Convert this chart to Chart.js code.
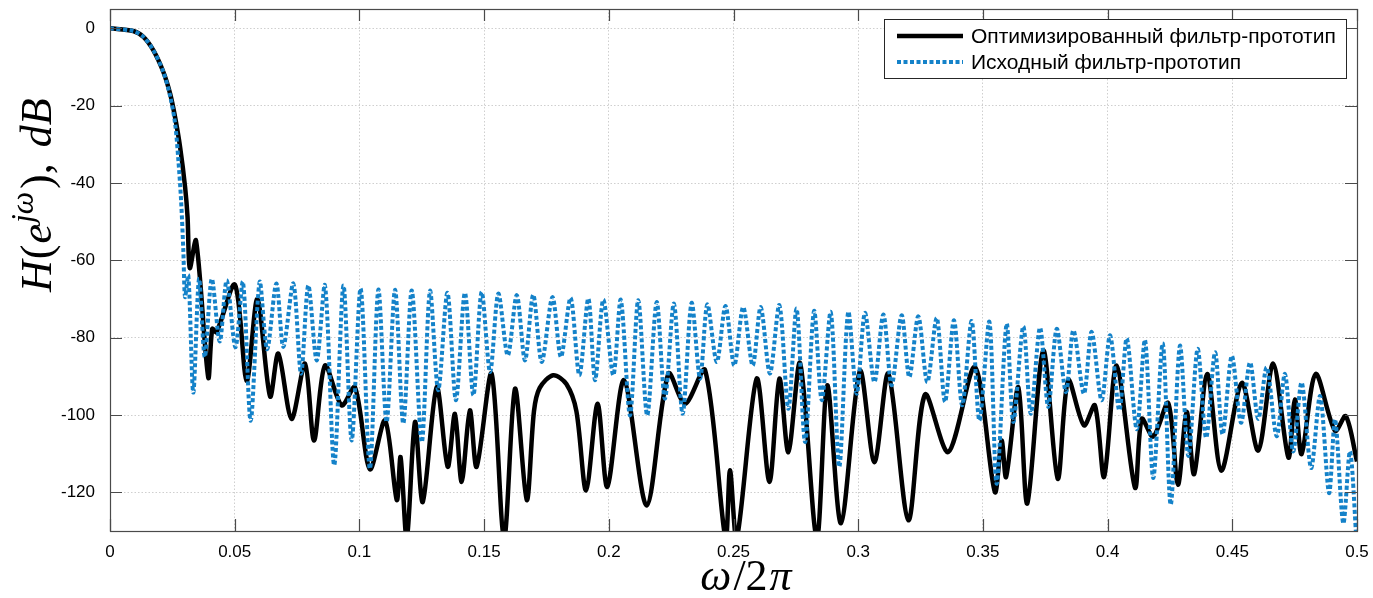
<!DOCTYPE html>
<html lang="ru">
<head>
  <meta charset="UTF-8" />
  <title>АЧХ фильтра-прототипа</title>
  <script src="https://cdn.jsdelivr.net/npm/chart.js"></script>
  <style>
    body { margin: 0; background: #fff; }
    canvas { display: block; }
  </style>
</head>
<body>
  <canvas id="chart" width="1373" height="598"></canvas>

<script>
  // normalised frequency ω/2π and magnitude in dB, optimised prototype
  const freqOpt = [
    0, 0.0093, 0.0134, 0.0174, 0.0214, 0.0241, 0.0261, 0.0281, 0.0301, 0.0311,
    0.0320, 0.0345, 0.0394, 0.0410, 0.0427, 0.0501, 0.0548, 0.0591, 0.0642, 0.0675,
    0.0728, 0.0782, 0.0818, 0.0862, 0.0929, 0.0982, 0.1042, 0.1103, 0.1150, 0.1165,
    0.1190, 0.1223, 0.1254, 0.1310, 0.1354, 0.1383, 0.1410, 0.1443, 0.1470, 0.1530,
    0.1580, 0.1624, 0.1671, 0.1700, 0.1723, 0.1777, 0.1830, 0.1870, 0.1909, 0.1955,
    0.1994, 0.2061, 0.2152, 0.2239, 0.2306, 0.2386, 0.2468, 0.2486, 0.2513, 0.2593,
    0.2644, 0.2684, 0.2720, 0.2767, 0.2834, 0.2876, 0.2931, 0.3007, 0.3065, 0.3121,
    0.3201, 0.3268, 0.3361, 0.3468, 0.3548, 0.3575, 0.3593, 0.3642, 0.3678, 0.3742,
    0.3800, 0.3842, 0.3905, 0.3949, 0.3986, 0.4036, 0.4110, 0.4137, 0.4183, 0.4243,
    0.4282, 0.4317, 0.4347, 0.4400, 0.4456, 0.4538, 0.4604, 0.4664, 0.4725, 0.4751,
    0.4778, 0.4834, 0.4912, 0.4955, 0.5000
  ];
  const gainOpt = [
    0, -0.7, -2.2, -5.7, -11.3, -16.9, -23, -30.7, -41, -48.8,
    -62, -54.9, -90.3, -77.7, -78.6, -66.3, -91.2, -70, -95.2, -84.1,
    -101, -86.7, -106.6, -87.2, -97.5, -92.8, -114, -101.4, -122, -110.9,
    -132, -101.8, -122.5, -92.8, -113.4, -99.7, -117.3, -98.8, -113.4, -89.3,
    -132, -93.2, -122, -99, -93, -89.7, -92, -99, -119.5, -97.1,
    -118.6, -91, -123.4, -89.3, -97.1, -88.4, -132, -114.3, -132, -90.6,
    -117.3, -90.6, -109.6, -86.6, -132, -92.3, -128, -88.6, -112.2, -89.3,
    -127.2, -94.7, -109.6, -87.6, -119.9, -106.6, -116, -92.8, -122.9, -83.3,
    -116.5, -91, -102.7, -97.5, -116, -87.2, -118.8, -101, -105.6, -96.9,
    -118, -99.2, -115.3, -89.4, -114.4, -91.7, -109.2, -86.7, -111, -96,
    -110.1, -89.4, -104.1, -100.3, -112
  ];

  // initial prototype
  const freqInit = [
    0, 0.0093, 0.0134, 0.0174, 0.0214, 0.0241, 0.0261, 0.0274, 0.0285, 0.0294,
    0.0301, 0.0314, 0.0334, 0.0357, 0.0380, 0.0408, 0.0440, 0.0468, 0.0503, 0.0533,
    0.0564, 0.0600, 0.0630, 0.0667, 0.0695, 0.0735, 0.0766, 0.0795, 0.0829, 0.0862,
    0.0899, 0.0936, 0.0969, 0.1005, 0.1042, 0.1076, 0.1109, 0.1143, 0.1176, 0.1210,
    0.1250, 0.1283, 0.1316, 0.1353, 0.1387, 0.1423, 0.1457, 0.1490, 0.1524, 0.1557,
    0.1595, 0.1631, 0.1664, 0.1697, 0.1731, 0.1774, 0.1808, 0.1847, 0.1882, 0.1918,
    0.1945, 0.1978, 0.2018, 0.2048, 0.2085, 0.2118, 0.2154, 0.2192, 0.2225, 0.2261,
    0.2296, 0.2332, 0.2366, 0.2395, 0.2433, 0.2468, 0.2503, 0.2539, 0.2577, 0.2609,
    0.2646, 0.2684, 0.2720, 0.2753, 0.2787, 0.2823, 0.2854, 0.2890, 0.2924, 0.2960,
    0.2994, 0.3027, 0.3065, 0.3101, 0.3134, 0.3174, 0.3205, 0.3241, 0.3277, 0.3315,
    0.3348, 0.3384, 0.3417, 0.3455, 0.3486, 0.3526, 0.3555, 0.3595, 0.3622, 0.3662,
    0.3692, 0.3729, 0.3762, 0.3796, 0.3833, 0.3863, 0.3905, 0.3936, 0.3976, 0.4010,
    0.4047, 0.4077, 0.4117, 0.4150, 0.4183, 0.4221, 0.4253, 0.4290, 0.4324, 0.4361,
    0.4395, 0.4431, 0.4461, 0.4498, 0.4535, 0.4571, 0.4604, 0.4638, 0.4678, 0.4711,
    0.4744, 0.4778, 0.4816, 0.4852, 0.4888, 0.4912, 0.4945, 0.4972, 0.5000
  ];
  const gainInit = [
    0, -0.7, -2.2, -5.7, -11.3, -17.5, -24.6, -34, -44.5, -57.4,
    -69.5, -63.9, -94.2, -64.8, -85, -64.8, -81, -65.2, -82.5, -65.6,
    -101.5, -65.6, -83, -66, -82.4, -66, -89.3, -66.5, -85.9, -66.5,
    -113, -66.5, -106.6, -67.3, -113.9, -67.6, -101.8, -67.6, -102.2, -67.8,
    -107, -67.9, -93.6, -68.4, -96.2, -68.4, -94.9, -68.2, -88.9, -68.6,
    -84.6, -69, -85.9, -68.9, -86.3, -69.5, -85, -69.7, -89.7, -69.9,
    -91, -70.2, -89.7, -70.2, -100.1, -70.3, -100.1, -70.8, -95.8, -71.2,
    -99.7, -71, -90.6, -71.4, -86.3, -71.8, -87.2, -72.1, -87.2, -72.1,
    -89.3, -71.6, -98.4, -72.5, -107, -73.1, -96.2, -73.4, -113.4, -73.4,
    -94.5, -73.6, -91.5, -74, -92.3, -74.2, -90.2, -74.5, -91.5, -74.9,
    -96.6, -75.5, -97.5, -75.7, -101.4, -75.9, -117.8, -76.4, -101.8, -77.1,
    -99.7, -77.4, -97.9, -77.7, -94.1, -78.1, -94.5, -78.5, -96.2, -79.4,
    -98.8, -80.2, -103.7, -80.6, -116.3, -81.5, -123.2, -82.1, -110.6, -82.9,
    -105.9, -83.8, -105, -84.7, -102, -86.4, -101, -87.7, -105.5, -89.4,
    -109.4, -91.6, -113.7, -95.1, -120.2, -101.1, -128, -109.4, -135
  ];

  const xTicks = [0, 0.05, 0.1, 0.15, 0.2, 0.25, 0.3, 0.35, 0.4, 0.45, 0.5];
  const yTicks = [-120, -100, -80, -60, -40, -20, 0];
  const seriesNames = ['Оптимизированный фильтр-прототип', 'Исходный фильтр-прототип'];

  const BLACK = '#000000';
  const BLUE = '#1482c9';
  const AXIS = '#4a4a4a';
  const tickFont = { family: "'Liberation Sans', Arial, sans-serif", size: 17 };

  function toPoints(xs, ys) {
    return xs.map((x, i) => ({ x, y: ys[i] }));
  }

  // draw a run of text pieces (some italic, some raised) starting at (x, y)
  function setPieceFont(ctx, p, size) {
    const s = p.sup ? size * 0.72 : size;
    ctx.font = `${p.it ? 'italic ' : ''}${s}px 'Liberation Serif', 'DejaVu Serif', serif`;
  }
  function drawPieces(ctx, pieces, x, y, size) {
    let cx = x;
    pieces.forEach(p => {
      setPieceFont(ctx, p, size);
      ctx.fillText(p.t, cx, y - (p.sup ? size * 0.42 : 0));
      cx += ctx.measureText(p.t).width + (p.gap || 0);
    });
  }
  function piecesWidth(ctx, pieces, size) {
    let w = 0;
    pieces.forEach(p => {
      setPieceFont(ctx, p, size);
      w += ctx.measureText(p.t).width + (p.gap || 0);
    });
    return w;
  }

  const yTitle = [
    { t: 'H', it: true, gap: 1 }, { t: '(', it: false, gap: 1 }, { t: 'e', it: true, gap: 1 },
    { t: 'jω', it: true, sup: true, gap: 3 }, { t: '),', it: false, gap: 16 },
    { t: 'dB', it: true }
  ];
  const xTitle = [{ t: 'ω', it: true, gap: 2 }, { t: '/2', it: false, gap: 2 }, { t: 'π', it: true }];

  // inward ticks on all four sides, the box, axis titles and the legend
  const decorations = {
    id: 'decorations',
    afterDraw(chart) {
      const { ctx, chartArea: a, scales: { x, y } } = chart;
      ctx.save();

      ctx.strokeStyle = AXIS;
      ctx.lineWidth = 1.2;
      ctx.beginPath();
      xTicks.forEach(v => {
        const px = Math.round(x.getPixelForValue(v)) + 0.5;
        ctx.moveTo(px, a.bottom); ctx.lineTo(px, a.bottom - 12);
        ctx.moveTo(px, a.top); ctx.lineTo(px, a.top + 12);
      });
      yTicks.forEach(v => {
        const py = Math.round(y.getPixelForValue(v)) + 0.5;
        ctx.moveTo(a.left, py); ctx.lineTo(a.left + 12, py);
        ctx.moveTo(a.right, py); ctx.lineTo(a.right - 12, py);
      });
      ctx.stroke();
      ctx.strokeRect(Math.round(a.left) + 0.5, Math.round(a.top) + 0.5,
        Math.round(a.right - a.left), Math.round(a.bottom - a.top));

      // axis titles
      ctx.fillStyle = '#000';
      ctx.textBaseline = 'alphabetic';
      ctx.textAlign = 'left';
      const ySize = 44;
      ctx.save();
      ctx.translate(51, 292);
      ctx.rotate(-Math.PI / 2);
      drawPieces(ctx, yTitle, 0, 0, ySize);
      ctx.restore();

      const xSize = 44;
      const xLen = piecesWidth(ctx, xTitle, xSize);
      drawPieces(ctx, xTitle, 746 - xLen / 2, 590, xSize);

      // legend
      const lx = 884, ly = 19, lw = 462, lh = 59;
      ctx.fillStyle = '#fff';
      ctx.fillRect(lx, ly, lw, lh);
      ctx.strokeStyle = '#262626';
      ctx.lineWidth = 1;
      ctx.strokeRect(lx + 0.5, ly + 0.5, lw, lh);

      const rows = [ly + 17, ly + 43];
      chart.data.datasets.forEach((ds, i) => {
        ctx.save();
        ctx.strokeStyle = ds.borderColor;
        ctx.lineWidth = ds.borderWidth;
        ctx.setLineDash(ds.borderDash || []);
        ctx.beginPath();
        ctx.moveTo(lx + 13, rows[i]);
        ctx.lineTo(lx + 79, rows[i]);
        ctx.stroke();
        ctx.restore();
        ctx.fillStyle = '#000';
        ctx.font = "21px 'Liberation Sans', Arial, sans-serif";
        ctx.textBaseline = 'middle';
        ctx.fillText(ds.label, lx + 87, rows[i] + 1);
      });

      ctx.restore();
    }
  };

  new Chart(document.getElementById('chart'), {
    type: 'line',
    data: {
      datasets: [
        {
          label: seriesNames[0],
          data: toPoints(freqOpt, gainOpt),
          borderColor: BLACK,
          borderWidth: 4.5,
          borderJoinStyle: 'round',
          pointRadius: 0,
          tension: 0.3,
          clip: 0,
          order: 1
        },
        {
          label: seriesNames[1],
          data: toPoints(freqInit, gainInit),
          borderColor: BLUE,
          borderWidth: 4,
          borderDash: [4, 2.5],
          pointRadius: 0,
          tension: 0.3,
          clip: 0,
          order: 0
        }
      ]
    },
    options: {
      responsive: false,
      devicePixelRatio: 1,
      animation: false,
      layout: { padding: { top: 9, right: 16, left: 0, bottom: 0 } },
      plugins: { legend: { display: false }, tooltip: { enabled: false } },
      scales: {
        x: {
          type: 'linear',
          min: 0,
          max: 0.5,
          afterBuildTicks: s => { s.ticks = xTicks.map(v => ({ value: v })); },
          afterFit: s => { s.height = 67; s.paddingLeft = 0; s.paddingRight = 0; },
          ticks: {
            color: '#000',
            font: tickFont,
            padding: 11,
            maxRotation: 0,
            autoSkip: false,
            callback: v => String(v)
          },
          grid: { color: '#cfcfcf', lineWidth: 1, drawTicks: false },
          border: { display: false, dash: [1.5, 2] }
        },
        y: {
          min: -130,
          max: 5,
          afterBuildTicks: s => { s.ticks = yTicks.map(v => ({ value: v })); },
          afterFit: s => { s.width = 110; s.paddingTop = 0; s.paddingBottom = 0; },
          ticks: {
            color: '#000',
            font: tickFont,
            padding: 15,
            callback: v => String(v)
          },
          grid: { color: '#cfcfcf', lineWidth: 1, drawTicks: false },
          border: { display: false, dash: [1.5, 2] }
        }
      }
    },
    plugins: [decorations]
  });
</script>
</body>
</html>
